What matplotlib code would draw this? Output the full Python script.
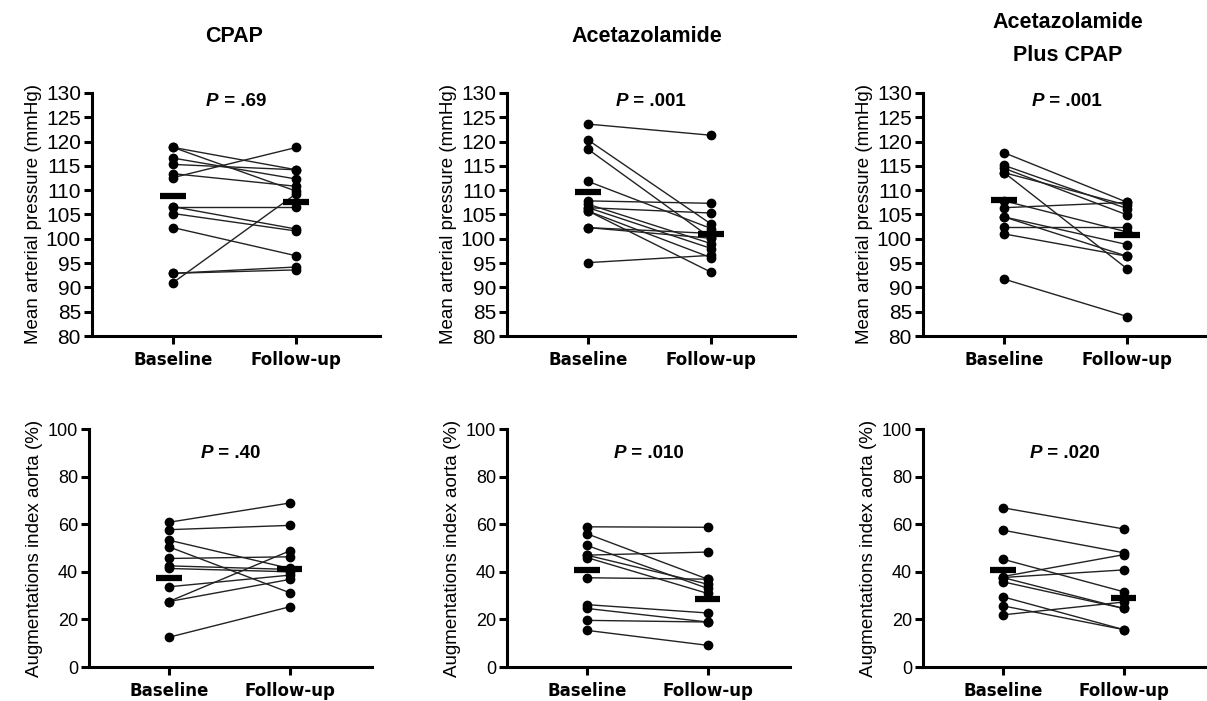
import matplotlib
matplotlib.use("Agg")
import matplotlib.pyplot as plt
from matplotlib.offsetbox import TextArea, HPacker, AnchoredOffsetbox

# ---------------- data ----------------
groups = ["CPAP", "Acetazolamide", "Acetazolamide\nPlus CPAP"]
timepoints = ["Baseline", "Follow-up"]

map_cpap_base = [118.8, 118.8, 116.6, 115.3, 113.4, 112.6, 106.6, 106.6, 105.2, 102.3, 92.9, 92.9, 91.0]
map_cpap_fu   = [114.2, 109.8, 112.3, 114.2, 110.8, 118.8, 106.6, 102.0, 101.6, 96.5, 94.2, 93.6, 109.3]
map_cpap_mean = [108.8, 107.5]

map_acet_base = [123.6, 120.3, 118.4, 111.8, 107.8, 107.1, 106.4, 105.7, 105.7, 102.3, 102.3, 95.1, 106.4]
map_acet_fu   = [121.3, 103.0, 100.1, 102.1, 107.3, 99.0, 98.0, 96.1, 93.1, 101.1, 100.1, 96.6, 105.3]
map_acet_mean = [109.6, 101.0]

map_comb_base = [117.7, 115.1, 114.5, 113.6, 113.6, 107.8, 106.4, 104.5, 104.5, 102.5, 101.0, 91.7]
map_comb_fu   = [107.5, 106.2, 104.9, 93.8, 106.9, 101.4, 107.5, 96.4, 98.8, 102.5, 96.4, 84.0]
map_comb_mean = [107.9, 100.7]

aix_cpap_base = [60.8, 57.7, 53.3, 50.5, 45.6, 42.5, 41.4, 33.7, 27.5, 27.5, 12.5]
aix_cpap_fu   = [68.9, 59.5, 41.4, 31.2, 46.3, 41.0, 40.0, 38.6, 48.8, 36.8, 25.3]
aix_cpap_mean = [37.6, 41.0]

aix_acet_base = [58.9, 56.0, 51.1, 47.0, 47.0, 46.0, 37.5, 26.2, 24.6, 19.6, 15.4]
aix_acet_fu   = [58.7, 36.9, 33.0, 48.3, 34.8, 30.9, 36.9, 22.7, 18.9, 18.9, 9.1]
aix_acet_mean = [40.8, 28.4]

aix_comb_base = [66.9, 57.5, 45.3, 38.0, 37.6, 37.6, 35.8, 29.5, 25.7, 21.9]
aix_comb_fu   = [58.0, 48.0, 31.6, 47.2, 40.8, 24.6, 24.6, 15.7, 15.7, 27.3]
aix_comb_mean = [40.8, 29.1]

p_map = ["P = .69", "P = .001", "P = .001"]
p_aix = ["P = .40", "P = .010", "P = .020"]

map_ticks = list(range(80, 131, 5))
aix_ticks = list(range(0, 101, 20))

# ---------------- figure ----------------
W, H = 1207, 701
fig = plt.figure(figsize=(W / 100, H / 100), dpi=100)

def frac_rect(left_px, top_px, width_px, bottom_px):
    return [left_px / W, 1 - bottom_px / H, width_px / W, (bottom_px - top_px) / H]

top_lefts = [92, 507, 923]
bot_lefts = [89, 507, 923]

map_data = [(map_cpap_base, map_cpap_fu, map_cpap_mean),
            (map_acet_base, map_acet_fu, map_acet_mean),
            (map_comb_base, map_comb_fu, map_comb_mean)]
aix_data = [(aix_cpap_base, aix_cpap_fu, aix_cpap_mean),
            (aix_acet_base, aix_acet_fu, aix_acet_mean),
            (aix_comb_base, aix_comb_fu, aix_comb_mean)]

XLIM = (0.34, 2.68)

def style_axes(ax, ticks, ylim, ylabel, tick_fs):
    ax.set_xlim(*XLIM)
    ax.set_ylim(*ylim)
    ax.set_yticks(ticks)
    ax.set_yticklabels([str(t) for t in ticks], fontsize=tick_fs,
                       family="Liberation Sans")
    ax.set_xticks([1, 2])
    ax.set_xticklabels(timepoints, fontsize=12, fontweight="bold",
                       family="DejaVu Sans")
    for s in ["top", "right"]:
        ax.spines[s].set_visible(False)
    for s in ["left", "bottom"]:
        ax.spines[s].set_linewidth(2.2)
    ax.tick_params(axis="both", direction="out", length=6, width=2.2)
    ax.tick_params(axis="y", pad=2)
    ax.tick_params(axis="x", pad=5)
    ax.set_ylabel(ylabel, fontsize=13.5, family="Liberation Sans", labelpad=3)
    ax.patch.set_alpha(0)

def draw_panel(ax, base, fu, means, ptext, p_y):
    for b, f in zip(base, fu):
        ax.plot([1, 2], [b, f], color="#222222", lw=1.0, zorder=2,
                marker="o", ms=6, mfc="black", mec="black", clip_on=False)
    for x, m in zip([1, 2], means):
        ax.hlines(m, x - 0.105, x + 0.105, color="black", lw=4.5, zorder=4)
    post = ptext.split(" ", 1)[1]
    ta1 = TextArea("P", textprops=dict(fontsize=13.5, fontweight="bold",
                                       fontstyle="italic", family="Liberation Sans"))
    ta2 = TextArea(" " + post, textprops=dict(fontsize=13.5, fontweight="bold",
                                              family="Liberation Sans"))
    box = HPacker(children=[ta1, ta2], align="baseline", pad=0, sep=0)
    anch = AnchoredOffsetbox(loc="center", child=box, pad=0, borderpad=0,
                             frameon=False, bbox_to_anchor=(0.5, p_y),
                             bbox_transform=ax.transAxes)
    ax.add_artist(anch)

for i in range(3):
    ax = fig.add_axes(frac_rect(top_lefts[i], 93, 288, 336))
    style_axes(ax, map_ticks, (80, 130), "Mean arterial pressure (mmHg)", 15)
    b, f, m = map_data[i]
    draw_panel(ax, b, f, m, p_map[i], 0.965)

    ax2 = fig.add_axes(frac_rect(bot_lefts[i], 429, 283, 667))
    style_axes(ax2, aix_ticks, (0, 100), "Augmentations index aorta (%)", 13)
    b, f, m = aix_data[i]
    draw_panel(ax2, b, f, m, p_aix[i], 0.895)

title_x = [234, 647, 1068]
title_y = [37, 37, 39]
for x, y, t in zip(title_x, title_y, groups):
    fig.text(x / W, 1 - y / H, t, ha="center", va="center", fontsize=15.5,
             fontweight="bold", family="Liberation Sans", linespacing=1.7)

fig.savefig("out.png", dpi=100)
